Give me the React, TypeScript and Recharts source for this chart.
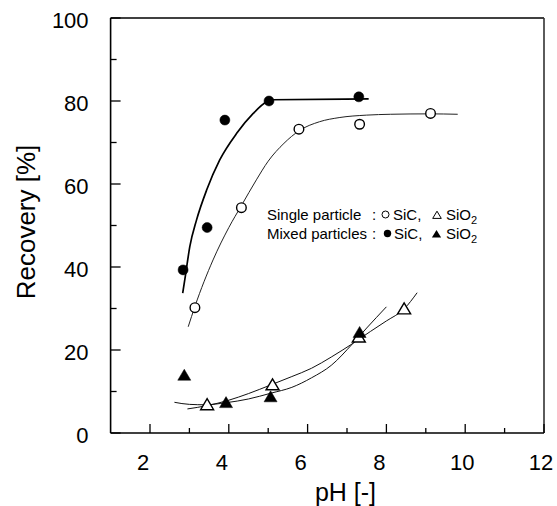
import React from 'react';
import { ComposedChart, XAxis, YAxis, Scatter, Line, ReferenceLine } from 'recharts';

// tick values
const xTicks = [2, 3, 4, 5, 6, 7, 8, 9, 10, 11, 12];
const xLabels = [2, 4, 6, 8, 10, 12];
const yTicks = [0, 10, 20, 30, 40, 50, 60, 70, 80, 90, 100];
const yLabels = [0, 20, 40, 60, 80, 100];

// measured points
const mixedSiC = [
  { x: 2.84, y: 39.3 },
  { x: 3.45, y: 49.5 },
  { x: 3.9, y: 75.4 },
  { x: 5.02, y: 80.0 },
  { x: 7.3, y: 81.0 },
];
const singleSiC = [
  { x: 3.14, y: 30.2 },
  { x: 4.32, y: 54.3 },
  { x: 5.78, y: 73.2 },
  { x: 7.32, y: 74.4 },
  { x: 9.12, y: 77.0 },
];
const singleSiO2 = [
  { x: 3.45, y: 6.5 },
  { x: 5.11, y: 11.3 },
  { x: 7.3, y: 22.8 },
  { x: 8.45, y: 29.6 },
];
const mixedSiO2 = [
  { x: 2.87, y: 13.6 },
  { x: 3.93, y: 7.0 },
  { x: 5.06, y: 8.4 },
  { x: 7.32, y: 23.9 },
];

// fitted curves
const fitMixedSiC = [
  { x: 2.83, y: 33.7 },
  { x: 2.9, y: 38.0 },
  { x: 3.01, y: 44.9 },
  { x: 3.18, y: 51.3 },
  { x: 3.44, y: 58.6 },
  { x: 3.77, y: 65.8 },
  { x: 4.2, y: 72.2 },
  { x: 4.62, y: 77.0 },
  { x: 4.96, y: 79.8 },
  { x: 5.1, y: 80.3 },
  { x: 7.55, y: 80.5 },
];
const fitSingleSiC = [
  { x: 2.97, y: 25.6 },
  { x: 3.14, y: 30.5 },
  { x: 3.6, y: 41.7 },
  { x: 4.0, y: 49.5 },
  { x: 4.32, y: 54.8 },
  { x: 4.7, y: 61.0 },
  { x: 5.0, y: 65.5 },
  { x: 5.4, y: 69.8 },
  { x: 5.78, y: 72.8 },
  { x: 6.3, y: 75.0 },
  { x: 6.8, y: 76.0 },
  { x: 7.5, y: 76.6 },
  { x: 8.1, y: 76.8 },
  { x: 9.1, y: 76.9 },
  { x: 9.81, y: 76.8 },
];
const fitMixedSiO2 = [
  { x: 2.62, y: 7.4 },
  { x: 3.0, y: 6.9 },
  { x: 3.4, y: 6.8 },
  { x: 3.93, y: 7.3 },
  { x: 4.5, y: 8.2 },
  { x: 5.07, y: 9.6 },
  { x: 5.6, y: 11.0 },
  { x: 6.1, y: 13.3 },
  { x: 6.6, y: 16.3 },
  { x: 7.15, y: 21.6 },
  { x: 7.5, y: 25.3 },
  { x: 8.0, y: 30.4 },
];
const fitSingleSiO2 = [
  { x: 2.95, y: 5.8 },
  { x: 3.45, y: 6.6 },
  { x: 4.0, y: 7.9 },
  { x: 4.5, y: 9.5 },
  { x: 5.07, y: 11.6 },
  { x: 5.6, y: 13.6 },
  { x: 6.1, y: 15.6 },
  { x: 6.6, y: 18.3 },
  { x: 7.15, y: 21.6 },
  { x: 7.6, y: 24.5 },
  { x: 8.0, y: 27.0 },
  { x: 8.45, y: 29.9 },
  { x: 8.78, y: 33.8 },
];

const FONT = '"Liberation Sans", Arial, Helvetica, sans-serif';

const XTick = (props: any) => {
  const { x, y, payload } = props;
  const v = payload.value as number;
  const major = xLabels.includes(v);
  const len = major ? 9 : 5;
  return (
    <g>
      <line x1={x} x2={x} y1={y} y2={y - len} stroke="#000" strokeWidth={1.3} />
      {major && (
        <text x={x + (v >= 10 ? -3 : -7)} y={y + 37} textAnchor="middle" fontSize={22} fontFamily={FONT} fill="#000">
          {v}
        </text>
      )}
    </g>
  );
};

const YTick = (props: any) => {
  const { x, y, payload } = props;
  const v = payload.value as number;
  const major = yLabels.includes(v);
  const len = major ? 10 : 6;
  return (
    <g>
      <line x1={x} x2={x + len} y1={y} y2={y} stroke="#000" strokeWidth={1.3} />
      {major && (
        <text x={x - 22} y={y + 9.5} textAnchor="end" fontSize={22} fontFamily={FONT} fill="#000">
          {v}
        </text>
      )}
    </g>
  );
};

const OpenCircle = (p: any) => <circle cx={p.cx} cy={p.cy} r={4.8} fill="#fff" stroke="#000" strokeWidth={1.4} />;
const FilledCircle = (p: any) => <circle cx={p.cx} cy={p.cy} r={5} fill="#000" stroke="#000" strokeWidth={0.5} />;
const triPts = (cx: number, cy: number, w: number, h: number) =>
  `${cx},${cy - (h * 2) / 3} ${cx - w},${cy + h / 3} ${cx + w},${cy + h / 3}`;
const OpenTri = (p: any) => <polygon points={triPts(p.cx, p.cy, 6.5, 11)} fill="#fff" stroke="#000" strokeWidth={1.4} />;
const FilledTri = (p: any) => <polygon points={triPts(p.cx, p.cy, 6.5, 11)} fill="#000" stroke="#000" strokeWidth={0.5} />;

export default function App() {
  return (
    <div style={{ position: 'absolute', left: 0, top: 0, width: 557, height: 506, background: '#fff' }}>
      <ComposedChart width={557} height={506} margin={{ top: 18, right: 13, bottom: 0, left: 0 }}>
        <XAxis
          dataKey="x"
          type="number"
          domain={[1, 12]}
          ticks={xTicks}
          interval={0}
          height={73}
          tickSize={0}
          tickMargin={0}
          tick={<XTick />}
          axisLine={{ stroke: '#000', strokeWidth: 1.6 }}
          allowDataOverflow
        />
        <YAxis
          dataKey="y"
          type="number"
          domain={[0, 100]}
          ticks={yTicks}
          interval={0}
          width={110.6}
          tickSize={0}
          tickMargin={0}
          tick={<YTick />}
          axisLine={{ stroke: '#000', strokeWidth: 1.6 }}
          allowDataOverflow
        />
        <ReferenceLine y={100} stroke="#000" strokeWidth={1.6} />
        <ReferenceLine x={12} stroke="#333" strokeWidth={1.6} />
        <Line data={fitMixedSiC} dataKey="y" type="monotone" dot={false} stroke="#000" strokeWidth={1.7} isAnimationActive={false} />
        <Line data={fitSingleSiC} dataKey="y" type="monotone" dot={false} stroke="#222" strokeWidth={1} isAnimationActive={false} />
        <Line data={fitMixedSiO2} dataKey="y" type="monotone" dot={false} stroke="#111" strokeWidth={1} isAnimationActive={false} />
        <Line data={fitSingleSiO2} dataKey="y" type="monotone" dot={false} stroke="#111" strokeWidth={1} isAnimationActive={false} />
        <Scatter data={singleSiC} dataKey="y" shape={<OpenCircle />} isAnimationActive={false} />
        <Scatter data={mixedSiC} dataKey="y" shape={<FilledCircle />} isAnimationActive={false} />
        <Scatter data={singleSiO2} dataKey="y" shape={<OpenTri />} isAnimationActive={false} />
        <Scatter data={mixedSiO2} dataKey="y" shape={<FilledTri />} isAnimationActive={false} />
      </ComposedChart>
      <svg width={557} height={506} style={{ position: 'absolute', left: 0, top: 0, pointerEvents: 'none' }}>
        <text transform="translate(35,222) rotate(-90)" textAnchor="middle" fontSize={26} fontFamily={FONT} fill="#000">
          Recovery [%]
        </text>
        <text x={345.5} y={501} textAnchor="middle" fontSize={25} fontFamily={FONT} fill="#000">
          pH [-]
        </text>
        <g fontSize={15} fontFamily={FONT} fill="#000">
          <text x={267} y={220}>Single particle</text>
          <text x={372} y={220}>:</text>
          <circle cx={385.5} cy={214.5} r={3.5} fill="#fff" stroke="#000" strokeWidth={1} />
          <text x={393} y={220}>SiC,</text>
          <polygon points={triPts(437, 216, 4.3, 7.2)} fill="#fff" stroke="#000" strokeWidth={1} />
          <text x={446} y={220}>
            SiO<tspan fontSize={11} dy={4}>2</tspan>
          </text>
          <text x={267} y={239}>Mixed particles</text>
          <text x={372} y={239}>:</text>
          <circle cx={387.5} cy={233.5} r={3.7} fill="#000" />
          <text x={394} y={239}>SiC,</text>
          <polygon points={triPts(436.5, 235, 4.6, 7.6)} fill="#000" />
          <text x={446} y={239}>
            SiO<tspan fontSize={11} dy={4}>2</tspan>
          </text>
        </g>
      </svg>
    </div>
  );
}
